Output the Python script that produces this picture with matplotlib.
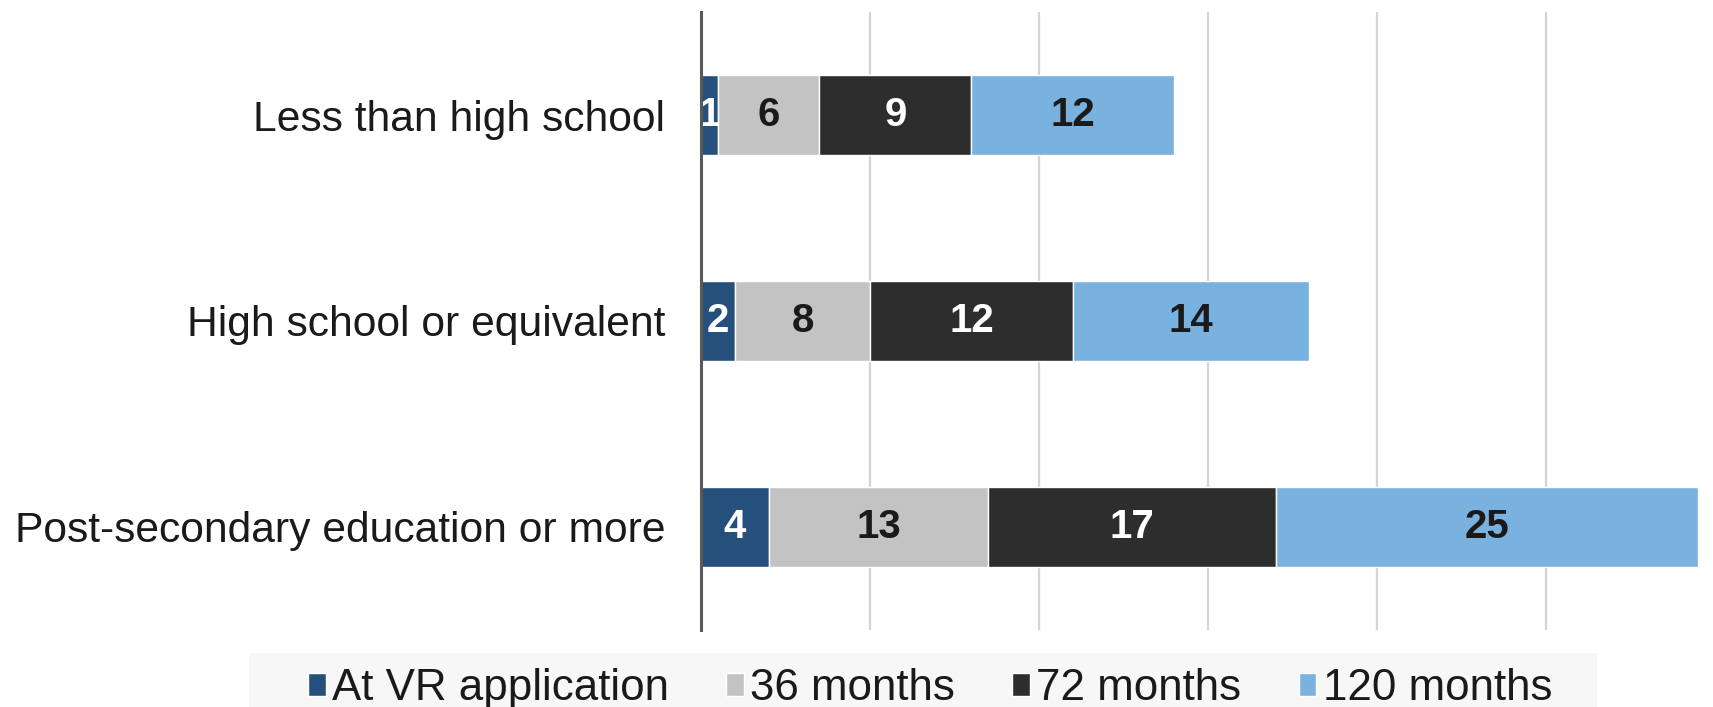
import matplotlib.pyplot as plt
from matplotlib.patches import Patch, Rectangle

# datos del grafico
categorias = ["Less than high school", "High school or equivalent",
              "Post-secondary education or more"]
series = ["At VR application", "36 months", "72 months", "120 months"]
at_vr = [1, 2, 4]
m36 = [6, 8, 13]
m72 = [9, 12, 17]
m120 = [12, 14, 25]

colores = ["#26507c", "#c3c3c3", "#2d2d2d", "#79b2df"]
color_texto = ["white", "#1a1a1a", "white", "#1a1a1a"]

plt.rcParams['font.family'] = ['Liberation Sans', 'DejaVu Sans']

fig = plt.figure(figsize=(17.13, 7.07), dpi=100)
ax = fig.add_axes([0.4093, 0.109, 0.582, 0.874])

y = list(range(len(categorias)))
izq = [0] * len(categorias)
for valores, nombre, col, ctxt in zip([at_vr, m36, m72, m120], series, colores, color_texto):
    barras = ax.barh(y, valores, left=izq, height=0.39, color=col,
                     edgecolor="white", linewidth=1, label=nombre, zorder=3)
    ax.bar_label(barras, labels=[str(v) for v in valores], label_type="center",
                 color=ctxt, fontsize=29, fontweight="bold")
    izq = [a + b for a, b in zip(izq, valores)]

ax.set_xlim(0, 59)
ax.set_ylim(-0.5, 2.5)
ax.invert_yaxis()
ax.set_yticks(y)
ax.set_yticklabels(categorias, fontsize=30.7, color="#1a1a1a")
ax.set_xticks(range(0, 60, 10))
ax.set_xticklabels([])
ax.tick_params(axis="both", length=0)
ax.tick_params(axis="y", pad=26)
ax.grid(axis="x", color="#d4d4d4", linewidth=1.6, zorder=0)
for lado in ["top", "right", "bottom"]:
    ax.spines[lado].set_visible(False)
ax.spines["left"].set_color("#595959")
ax.spines["left"].set_linewidth(2.2)
ax.spines["left"].set_zorder(4)

# fondo de la leyenda
fig.patches.append(Rectangle((249 / 1713, 0), (1597 - 249) / 1713, 54 / 707,
                             transform=fig.transFigure, facecolor="#f7f7f7",
                             edgecolor="none", zorder=0))
manejadores = [Patch(facecolor=c, edgecolor="white") for c in colores]
fig.legend(manejadores, series, loc="center", bbox_to_anchor=(0.543, 0.026),
           ncol=4, frameon=False, fontsize=31.6, handlelength=0.4,
           handleheight=0.4, handletextpad=0.15, columnspacing=1.3,
           borderpad=0, labelcolor="#1a1a1a")

fig.savefig("out.png", dpi=100)
